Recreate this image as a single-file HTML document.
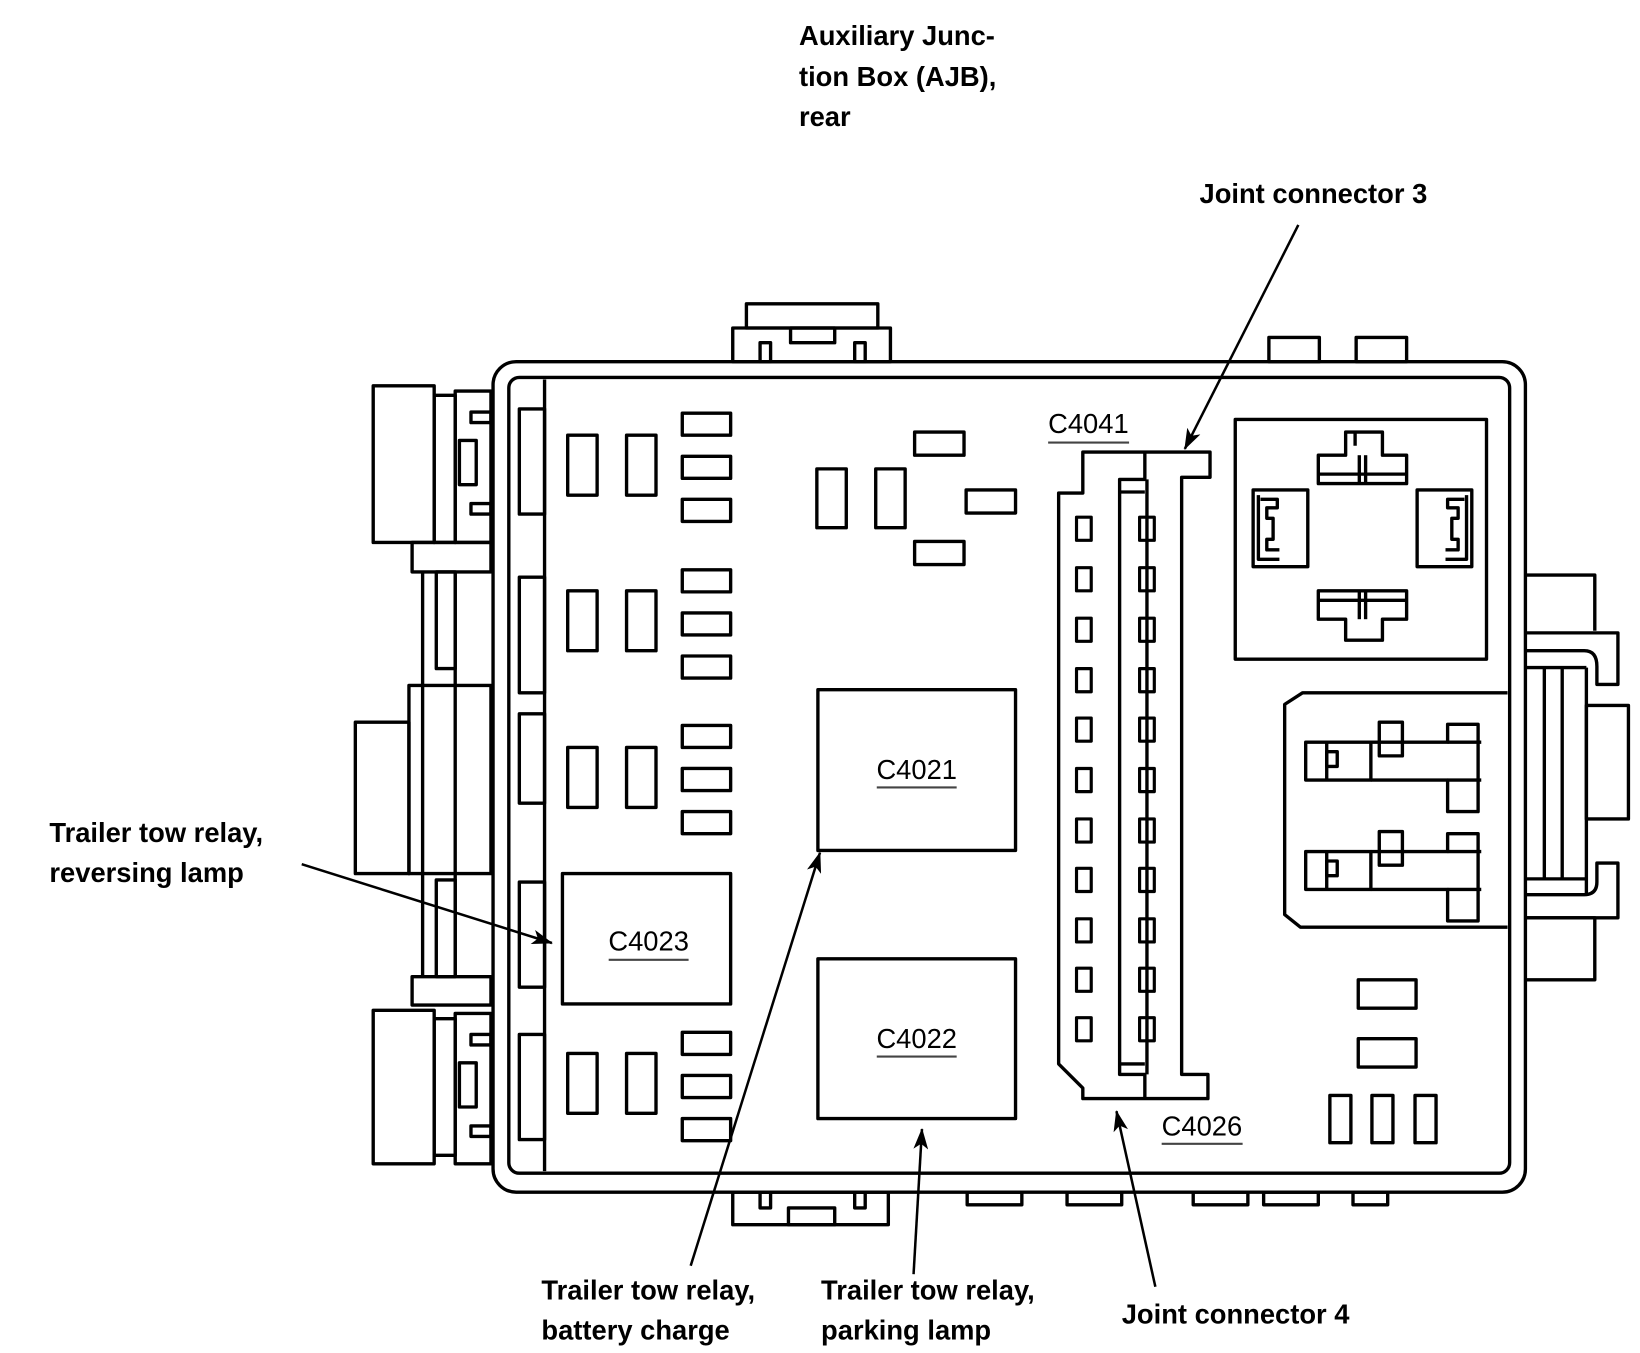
<!DOCTYPE html>
<html><head><meta charset="utf-8"><style>
html,body{margin:0;padding:0;background:#fff;}
svg{display:block;}
text{font-family:"Liberation Sans",sans-serif;fill:#000;}
.b{font-weight:bold;font-size:26px;}
.c{font-size:26px;}
</style></head><body>
<svg width="1640" height="1353" viewBox="0 0 1560 1287" preserveAspectRatio="none" xmlns="http://www.w3.org/2000/svg">
<defs>
<marker id="ah2" viewBox="0 0 20 14" refX="19" refY="7" markerWidth="22" markerHeight="14" orient="auto" markerUnits="userSpaceOnUse"><path d="M0,0 L20,7 L0,14 L5,7 Z" fill="#000"/></marker></defs>
<g transform="translate(-3,-1)">
<g fill="none" stroke="#000" stroke-width="3.2" stroke-linejoin="round">
<rect x="472" y="345" width="982" height="790" rx="22"/>
<rect x="487" y="360" width="952" height="757" rx="10"/>
<line x1="521" y1="362" x2="521" y2="1115"/>
<rect x="497" y="390" width="24" height="100"/>
<rect x="497" y="550" width="24" height="110"/>
<rect x="497" y="680" width="24" height="85"/>
<rect x="497" y="840" width="24" height="100"/>
<rect x="497" y="985" width="24" height="100"/>
<rect x="358" y="368" width="58" height="149"/>
<rect x="416" y="377" width="20" height="140"/>
<rect x="436" y="373" width="34" height="144"/>
<rect x="451" y="393" width="19" height="10"/>
<rect x="451" y="480" width="19" height="10"/>
<rect x="440" y="420" width="16" height="42"/>
<rect x="395" y="517" width="75" height="28"/>
<line x1="405" y1="545" x2="405" y2="653"/>
<rect x="418" y="545" width="18" height="92"/>
<line x1="436" y1="545" x2="436" y2="653"/>
<rect x="392" y="653" width="78" height="179"/>
<rect x="341" y="688" width="51" height="144"/>
<line x1="405" y1="653" x2="405" y2="832"/>
<line x1="436" y1="653" x2="436" y2="832"/>
<line x1="405" y1="832" x2="405" y2="930"/>
<rect x="418" y="838" width="18" height="92"/>
<line x1="436" y1="832" x2="436" y2="930"/>
<rect x="395" y="930" width="75" height="27"/>
<rect x="358" y="962" width="58" height="146"/>
<rect x="416" y="970" width="20" height="130"/>
<rect x="436" y="965" width="34" height="143"/>
<rect x="451" y="985" width="19" height="10"/>
<rect x="451" y="1072" width="19" height="10"/>
<rect x="440" y="1012" width="16" height="42"/>
<rect x="713" y="290" width="125" height="23"/>
<rect x="700" y="313" width="150" height="32"/>
<rect x="755" y="313" width="42" height="14"/>
<rect x="726" y="327" width="10" height="18"/>
<rect x="816" y="327" width="10" height="18"/>
<rect x="1210" y="322" width="48" height="23"/>
<rect x="1293" y="322" width="48" height="23"/>
<rect x="700" y="1135" width="148" height="31"/>
<rect x="726" y="1135" width="10" height="15"/>
<rect x="816" y="1135" width="10" height="15"/>
<rect x="753" y="1150" width="44" height="16"/>
<rect x="923" y="1135" width="52" height="12"/>
<rect x="1018" y="1135" width="52" height="12"/>
<rect x="1138" y="1135" width="52" height="12"/>
<rect x="1205" y="1135" width="52" height="12"/>
<rect x="1290" y="1135" width="33" height="12"/>
<rect x="543" y="415" width="28" height="57"/><rect x="599" y="415" width="28" height="57"/>
<rect x="543" y="563" width="28" height="57"/><rect x="599" y="563" width="28" height="57"/>
<rect x="543" y="712" width="28" height="57"/><rect x="599" y="712" width="28" height="57"/>
<rect x="543" y="1003" width="28" height="57"/><rect x="599" y="1003" width="28" height="57"/>
<rect x="652" y="394" width="46" height="21"/><rect x="652" y="435" width="46" height="21"/><rect x="652" y="476" width="46" height="21"/>
<rect x="652" y="543" width="46" height="21"/><rect x="652" y="584" width="46" height="21"/><rect x="652" y="625" width="46" height="21"/>
<rect x="652" y="691" width="46" height="21"/><rect x="652" y="732" width="46" height="21"/><rect x="652" y="773" width="46" height="21"/>
<rect x="652" y="983" width="46" height="21"/><rect x="652" y="1024" width="46" height="21"/><rect x="652" y="1065" width="46" height="21"/>
<rect x="780" y="447" width="28" height="56"/><rect x="836" y="447" width="28" height="56"/>
<rect x="873" y="412" width="47" height="22"/><rect x="922" y="467" width="47" height="22"/><rect x="873" y="516" width="47" height="22"/>
<rect x="781" y="657" width="188" height="153"/>
<rect x="781" y="913" width="188" height="152"/>
<rect x="538" y="832" width="160" height="124"/>
<path d="M1033,431 H1154 V455 H1127 V1023 H1152 V1046 H1033 V1036 L1010,1013 V470 H1033 Z"/>
<path d="M1092,431 V457 H1068 V1023 H1092 V1046"/>
<line x1="1068" y1="469" x2="1092" y2="469"/>
<line x1="1094" y1="457" x2="1094" y2="1023"/>
<line x1="1068" y1="1013" x2="1092" y2="1013"/>
<g stroke-width="3">
<rect x="1027" y="493" width="14" height="22"/><rect x="1087" y="493" width="14" height="22"/>
<rect x="1027" y="541" width="14" height="22"/><rect x="1087" y="541" width="14" height="22"/>
<rect x="1027" y="589" width="14" height="22"/><rect x="1087" y="589" width="14" height="22"/>
<rect x="1027" y="637" width="14" height="22"/><rect x="1087" y="637" width="14" height="22"/>
<rect x="1027" y="684" width="14" height="22"/><rect x="1087" y="684" width="14" height="22"/>
<rect x="1027" y="732" width="14" height="22"/><rect x="1087" y="732" width="14" height="22"/>
<rect x="1027" y="780" width="14" height="22"/><rect x="1087" y="780" width="14" height="22"/>
<rect x="1027" y="827" width="14" height="22"/><rect x="1087" y="827" width="14" height="22"/>
<rect x="1027" y="875" width="14" height="22"/><rect x="1087" y="875" width="14" height="22"/>
<rect x="1027" y="922" width="14" height="22"/><rect x="1087" y="922" width="14" height="22"/>
<rect x="1027" y="969" width="14" height="22"/><rect x="1087" y="969" width="14" height="22"/>
</g>
<rect x="1178" y="400" width="239" height="228"/>
<path d="M1257,434 H1283 V412 H1318 V434 H1341 V461 H1257 Z"/>
<line x1="1257" y1="452" x2="1341" y2="452"/><line x1="1296" y1="434" x2="1296" y2="461"/><line x1="1302" y1="434" x2="1302" y2="461"/><line x1="1292" y1="412" x2="1292" y2="425"/>
<path d="M1257,563 H1341 V590 H1318 V610 H1283 V590 H1257 Z"/>
<line x1="1257" y1="572" x2="1341" y2="572"/><line x1="1296" y1="563" x2="1296" y2="590"/><line x1="1302" y1="563" x2="1302" y2="590"/>
<rect x="1195" y="467" width="52" height="73"/>
<path d="M1200,472 V533 H1220 M1202,476 H1218 V484 H1208 V494 H1214 V514 H1208 V524 H1220"/>
<rect x="1351" y="467" width="52" height="73"/>
<path d="M1398,472 V533 H1378 M1396,476 H1380 V484 H1390 V494 H1384 V514 H1390 V524 H1378"/>
<path d="M1437,660 H1242 L1225,671 V871 L1240,883 H1437"/>
<rect x="1245" y="707" width="62" height="36"/><rect x="1265" y="716" width="10" height="14"/>
<path d="M1307,707 H1380 V690 H1409 V773 H1380 V743 H1307"/><rect x="1315" y="688" width="22" height="32"/>
<line x1="1380" y1="707" x2="1412" y2="707"/><line x1="1380" y1="743" x2="1412" y2="743"/>
<line x1="1265" y1="707" x2="1265" y2="743"/>
<rect x="1245" y="811" width="62" height="36"/><rect x="1265" y="820" width="10" height="14"/>
<path d="M1307,811 H1380 V794 H1409 V877 H1380 V847 H1307"/><rect x="1315" y="792" width="22" height="32"/>
<line x1="1380" y1="811" x2="1412" y2="811"/><line x1="1380" y1="847" x2="1412" y2="847"/>
<line x1="1265" y1="811" x2="1265" y2="847"/>
<path d="M1455,548 H1520 V601"/>
<path d="M1455,603 H1542 V652 H1522 V635 Q1522,620 1510,620 H1455"/>
<line x1="1455" y1="636" x2="1512" y2="636"/>
<line x1="1472" y1="636" x2="1472" y2="837"/><line x1="1489" y1="636" x2="1489" y2="837"/>
<rect x="1512" y="672" width="40" height="108"/>
<line x1="1512" y1="636" x2="1512" y2="852"/>
<path d="M1455,837 H1512 M1455,852 H1510 Q1522,852 1522,840 V822 H1542 V874 H1455"/>
<path d="M1455,874 H1520 V933 H1455"/>
<rect x="1295" y="933" width="55" height="27"/>
<rect x="1295" y="989" width="55" height="27"/>
<rect x="1268" y="1043" width="20" height="45"/><rect x="1308" y="1043" width="20" height="45"/><rect x="1349" y="1043" width="20" height="45"/>
</g>
<g stroke="#444" stroke-width="2">
<line x1="1000" y1="422" x2="1077" y2="422"/>
<line x1="1108" y1="1089" x2="1185" y2="1089"/>
<line x1="837" y1="750" x2="913" y2="750"/>
<line x1="837" y1="1006" x2="913" y2="1006"/>
<line x1="582" y1="914" x2="658" y2="914"/>
</g>
<g stroke="#000" stroke-width="2.4" fill="none">
<line x1="1238" y1="215" x2="1130" y2="428" marker-end="url(#ah2)"/>
<line x1="290" y1="823" x2="528" y2="898" marker-end="url(#ah2)"/>
<line x1="660" y1="1205" x2="783" y2="812" marker-end="url(#ah2)"/>
<line x1="872" y1="1213" x2="880" y2="1075" marker-end="url(#ah2)"/>
<line x1="1102" y1="1225" x2="1065" y2="1058" marker-end="url(#ah2)"/>
</g>
<text class="b" x="763" y="44">Auxiliary Junc-</text>
<text class="b" x="763" y="83">tion Box (AJB),</text>
<text class="b" x="763" y="121">rear</text>
<text class="b" x="1144" y="194">Joint connector 3</text>
<text class="b" x="50" y="802">Trailer tow relay,</text>
<text class="b" x="50" y="840">reversing lamp</text>
<text class="b" x="518" y="1237">Trailer tow relay,</text>
<text class="b" x="518" y="1275">battery charge</text>
<text class="b" x="784" y="1237">Trailer tow relay,</text>
<text class="b" x="784" y="1275">parking lamp</text>
<text class="b" x="1070" y="1260">Joint connector 4</text>
<text class="c" x="1000" y="413">C4041</text>
<text class="c" x="1108" y="1081">C4026</text>
<text class="c" x="875" y="742" text-anchor="middle">C4021</text>
<text class="c" x="875" y="998" text-anchor="middle">C4022</text>
<text class="c" x="620" y="905" text-anchor="middle">C4023</text>
</g>
</svg>
</body></html>
